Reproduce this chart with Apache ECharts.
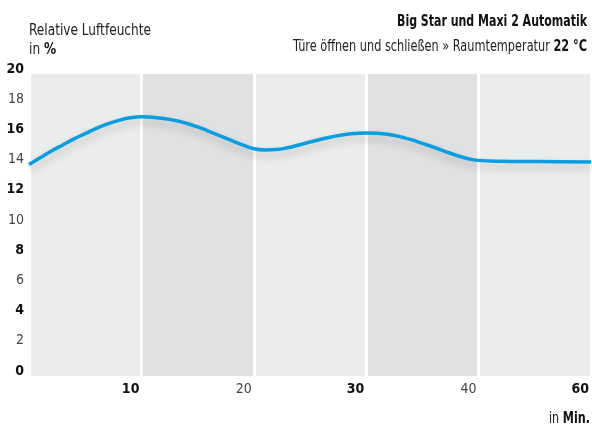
<!DOCTYPE html>
<html>
<head>
<meta charset="utf-8">
<script src="https://cdn.jsdelivr.net/npm/echarts@6/dist/echarts.min.js"></script>
<style>
html,body{margin:0;padding:0;background:#fff;}
#c{width:592px;height:427px;}
</style>
</head>
<body>
<div id="c"></div>
<script>
// Data (minutes on a compressed axis: last tick 50 is labelled "60")
const minutes = [0, 1, 2, 3, 4, 5, 6, 7, 8, 9, 10, 11, 12, 13, 14, 15, 16, 17, 18, 19, 20, 21, 22, 23, 24, 25, 26, 27, 28, 29, 30, 31, 32, 33, 34, 35, 36, 37, 38, 39, 40, 42, 45, 50];
const humidity = [14.0, 14.45, 14.9, 15.3, 15.7, 16.05, 16.4, 16.7, 16.93, 17.1, 17.17, 17.13, 17.05, 16.92, 16.74, 16.5, 16.2, 15.9, 15.6, 15.3, 15.05, 14.97, 15.0, 15.12, 15.3, 15.5, 15.68, 15.85, 15.98, 16.06, 16.1, 16.08, 16.0, 15.85, 15.65, 15.4, 15.15, 14.88, 14.62, 14.4, 14.28, 14.22, 14.2, 14.17];
const xTickLabels = {10: '10', 20: '20', 30: '30', 40: '40', 50: '60'};
const xBold = ['10', '30', '60'];
const yBold = [0, 4, 8, 12, 16, 20];

const FONT = '"DejaVu Sans Condensed", "Liberation Sans Narrow", sans-serif';
const chart = echarts.init(document.getElementById('c'), null, {renderer: 'canvas'});

// measure width of rich text parts to fit a target width via horizontal scale
const mctx = document.createElement('canvas').getContext('2d');
function measure(parts, size) {
  let w = 0;
  parts.forEach(p => {
    mctx.font = (p[1] ? 'bold ' : 'normal ') + size + 'px ' + FONT;
    w += mctx.measureText(p[0]).width;
  });
  return w;
}
function fit(parts, size, target) { return target / measure(parts, size); }

const rich = {
  b: {fontFamily: FONT, fontWeight: 'bold', color: '#111', fontSize: 14},
  l: {fontFamily: FONT, fontWeight: 'normal', color: '#444', fontSize: 14}
};
const tRich = size => ({
  l: {fontFamily: FONT, fontSize: size, fontWeight: 'normal', fill: '#222', color: '#222'},
  b: {fontFamily: FONT, fontSize: size, fontWeight: 'bold', fill: '#111', color: '#111'}
});

const p1 = [['Relative Luftfeuchte', false]];
const p2 = [['Big Star und Maxi 2 Automatik', true]];
const p3 = [['Türe öffnen und schließen » Raumtemperatur ', false], ['22 °C', true]];
const p4 = [['in ', false], ['Min.', true]];

chart.setOption({
  backgroundColor: '#fff',
  animation: false,
  textStyle: {fontFamily: FONT},
  graphic: [
    {type: 'text', x: 29, y: 23, scaleX: fit(p1, 16, 122),
      style: {text: '{l|Relative Luftfeuchte}', rich: tRich(16), verticalAlign: 'top'}},
    {type: 'text', x: 29, y: 42, scaleX: fit(p1, 16, 122),
      style: {text: '{l|in }{b|%}', rich: tRich(16), verticalAlign: 'top'}},
    {type: 'text', x: 587, y: 14, scaleX: fit(p2, 16, 190),
      style: {text: '{b|Big Star und Maxi 2 Automatik}', rich: tRich(16), align: 'right', verticalAlign: 'top'}},
    {type: 'text', x: 587, y: 39, scaleX: fit(p3, 16, 294),
      style: {text: '{l|Türe öffnen und schließen » Raumtemperatur }{b|22 °C}', rich: tRich(16), align: 'right', verticalAlign: 'top'}},
    {type: 'text', x: 590, y: 412, scaleX: fit(p4, 15, 41),
      style: {text: '{l|in }{b|Min.}', rich: tRich(15), align: 'right', verticalAlign: 'top'}}
  ],
  grid: {left: 29, right: 0, top: 74, bottom: 51},
  xAxis: {
    type: 'value', min: 0, max: 50, interval: 10,
    axisLine: {show: false}, axisTick: {show: false},
    splitLine: {show: true, lineStyle: {color: '#fff', width: 3}},
    splitArea: {show: true, areaStyle: {color: ['#ebecec', '#e0e1e3']}},
    axisLabel: {
      align: 'right', margin: 6, padding: [0, 2, 0, 0],
      formatter: v => {
        const t = xTickLabels[v];
        if (!t) return '';
        return xBold.includes(t) ? '{b|' + t + '}' : '{l|' + t + '}';
      },
      rich: rich
    }
  },
  yAxis: {
    type: 'value', min: 0, max: 20, interval: 2,
    axisLine: {show: false}, axisTick: {show: false},
    splitLine: {show: true, lineStyle: {color: '#fff', width: 2}},
    axisLabel: {
      margin: 5, verticalAlign: 'bottom', padding: [0, 0, -2, 0],
      formatter: v => yBold.includes(v) ? '{b|' + v + '}' : '{l|' + v + '}',
      rich: rich
    }
  },
  series: [{
    type: 'line',
    data: minutes.map((m, i) => [m, humidity[i]]),
    smooth: 0.5,
    showSymbol: false,
    lineStyle: {
      color: '#0a9de0', width: 3.5,
      shadowColor: 'rgba(0,0,0,0.2)', shadowBlur: 8, shadowOffsetY: 5
    },
    z: 5
  }]
});
</script>
</body>
</html>
